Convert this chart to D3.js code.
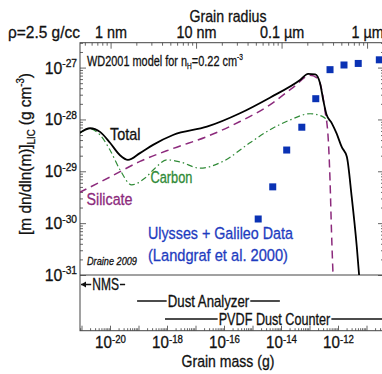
<!DOCTYPE html>
<html>
<head>
<meta charset="utf-8">
<script src="https://cdn.jsdelivr.net/npm/d3@7"></script>
<style>
  html, body { margin: 0; padding: 0; background: #fff; }
  svg { display: block; font-family: "Liberation Sans Narrow", "Liberation Sans", Arial, sans-serif; }
</style>
</head>
<body>
<svg width="382" height="374"></svg>
<script>
// values are log10 of grain mass (g) and of m dn/dln(m) (g cm^-3)
const totalLogM = [-21.09, -20.70, -20.35, -20.00, -19.65, -19.37, -18.95, -18.49, -17.79, -16.60, -15.44, -14.39, -13.33, -13.05, -12.80, -12.63, -12.52, -12.40, -12.22, -12.05, -11.87, -11.69, -11.52, -11.34, -11.23]
const totalLogV = [-28.27, -28.17, -28.24, -28.45, -28.69, -28.78, -28.65, -28.49, -28.30, -28.14, -27.88, -27.58, -27.24, -27.12, -27.13, -27.30, -27.62, -27.91, -28.07, -28.27, -28.53, -28.72, -29.49, -30.46, -31.20]

const silicateLogM = [-21.08, -20.00, -18.95, -17.79, -16.60, -15.44, -14.39, -13.57, -12.98, -12.74, -12.57, -12.46, -12.34, -12.28, -12.23, -12.16]
const silicateLogV = [-29.41, -29.11, -28.81, -28.56, -28.33, -28.04, -27.72, -27.38, -27.15, -27.20, -27.43, -27.82, -28.40, -29.17, -30.13, -31.20]

const carbonLogM = [-21.09, -20.70, -20.35, -20.00, -19.65, -19.24, -18.77, -18.42, -18.01, -17.54, -16.84, -16.04, -15.09, -14.39, -13.68, -12.98, -12.52, -12.35]
const carbonLogV = [-28.27, -28.18, -28.30, -28.59, -28.97, -29.26, -29.13, -28.94, -28.78, -28.82, -28.94, -28.81, -28.45, -28.20, -28.01, -27.89, -27.95, -28.03]

// Ulysses + Galileo points
const dataLogM = [-14.80, -14.29, -13.80, -13.27, -12.78, -12.28, -11.79, -11.29, -10.55]
const dataLogV = [-29.92, -29.30, -28.59, -28.15, -27.60, -27.04, -26.95, -26.92, -26.85]

// instrument ranges (log10 mass); null = runs to the plot edge
const instrumentNames = ['NMS', 'Dust Analyzer', 'PVDF Dust Counter']
const instrumentFrom = [null, -19.05, -18.07]
const instrumentTo = [-19.47, -14.04, null]

// axes
const massExps = [-22, -21, -20, -19, -18, -17, -16, -15, -14, -13, -12, -11]
const massLabelExps = [-20, -18, -16, -14, -12]
const yExps = [-31, -30, -29, -28, -27]
const radiusCm = [1e-7, 1e-6, 1e-5, 1e-4]
const radiusLabels = ['1 nm', '10 nm', '0.1 \u00b5m', '1 \u00b5m']
const rho = 2.5

const svg = d3.select('svg')
const pLeft = 80, pRight = 384, pTop = 42.7, pMid = 275, pBottom = 330.7
const frameColor = '#444', tickColor = '#666'
const squeeze = 0.83 // no condensed face installed, so text is narrowed by hand

const x = d3.scaleLog().domain([10 ** -21.053, 10 ** -10.386]).range([pLeft, pRight])
const y = d3.scaleLog().domain([1e-31, 10 ** -26.52]).range([pMid, pTop])
const massOf = (a) => (4 / 3) * Math.PI * a ** 3 * rho

const inX = (m) => m >= x.domain()[0] && m <= x.domain()[1]
const inY = (v) => v >= y.domain()[0] && v <= y.domain()[1]

const minorsOf = (exps) => exps.flatMap((e) => d3.range(2, 10).map((k) => k * 10 ** e))

const supLabel = (sel, base, exp, supSize, rise) => {
    sel.text(null)
    sel.append('tspan').text(base)
    sel.append('tspan').attr('font-size', supSize).attr('dy', -rise).text('-' + Math.abs(exp))
}

// squeeze a text so that it spans the given width
const fit = (sel, width) => sel.attr('data-sq', width / sel.node().getComputedTextLength())

const styleAxis = (g) => {
    g.select('.domain').remove()
    g.selectAll('.tick line').attr('stroke', tickColor)
    g.selectAll('.tick text').attr('fill', '#111').attr('font-family', null)
}

// ---- bottom axis
const bottomMajor = massExps.map((e) => 10 ** e).filter(inX)
svg.append('g')
    .attr('transform', `translate(0, ${pBottom})`)
    .call(d3.axisBottom(x).tickValues(minorsOf(massExps).filter(inX)).tickSize(-2.5).tickFormat(''))
    .call(styleAxis)
svg.append('g')
    .attr('transform', `translate(0, ${pBottom})`)
    .call(d3.axisBottom(x).tickValues(bottomMajor).tickSize(-5).tickPadding(6).tickFormat(''))
    .call(styleAxis)
    .selectAll('.tick text')
    .attr('font-size', 16.5)
    .attr('data-sq', 0.92)
    .each(function (d) {
        const e = Math.round(Math.log10(d))
        if (massLabelExps.includes(e)) supLabel(d3.select(this), '10', e, 10.5, 5.5)
    })

// ---- top axis (grain radius)
const radiusMinor = [-8, -7, -6, -5, -4].flatMap((e) => d3.range(2, 10).map((k) => massOf(k * 10 ** e))).filter(inX)
svg.append('g')
    .attr('transform', `translate(0, ${pTop})`)
    .call(d3.axisTop(x).tickValues(radiusMinor).tickSize(-3).tickFormat(''))
    .call(styleAxis)
svg.append('g')
    .attr('transform', `translate(0, ${pTop})`)
    .call(d3.axisTop(x).tickValues(radiusCm.map(massOf)).tickSize(-6).tickPadding(5)
        .tickFormat((d, i) => radiusLabels[i]))
    .call(styleAxis)
    .selectAll('.tick text')
    .attr('font-size', 16)
    .attr('data-sq', 0.9)

// ---- left / right axes
const yMinor = minorsOf(yExps).filter(inY)
const yMajor = yExps.map((e) => 10 ** e)
svg.append('g')
    .attr('transform', `translate(${pLeft}, 0)`)
    .call(d3.axisLeft(y).tickValues(yMinor).tickSize(-3).tickFormat(''))
    .call(styleAxis)
svg.append('g')
    .attr('transform', `translate(${pLeft}, 0)`)
    .call(d3.axisLeft(y).tickValues(yMajor).tickSize(-6).tickPadding(3).tickFormat(''))
    .call(styleAxis)
    .selectAll('.tick text')
    .attr('font-size', 17)
    .attr('data-sq', 0.93)
    .each(function (d) {
        supLabel(d3.select(this), '10', Math.round(Math.log10(d)), 11, 6.5)
    })
svg.append('g')
    .attr('transform', `translate(${pRight}, 0)`)
    .call(d3.axisRight(y).tickValues(yMinor).tickSize(-3).tickFormat(''))
    .call(styleAxis)
svg.append('g')
    .attr('transform', `translate(${pRight}, 0)`)
    .call(d3.axisRight(y).tickValues(yMajor).tickSize(-6).tickFormat(''))
    .call(styleAxis)

// ---- frame
const frame = svg.append('g').attr('stroke', frameColor).attr('stroke-width', 1).attr('fill', 'none')
frame.append('rect').attr('x', pLeft).attr('y', pTop).attr('width', pRight - pLeft).attr('height', pBottom - pTop)
frame.append('line').attr('x1', pLeft).attr('x2', pRight).attr('y1', pMid).attr('y2', pMid)

// ---- curves
svg.append('clipPath').attr('id', 'upper')
    .append('rect').attr('x', pLeft).attr('y', pTop).attr('width', pRight - pLeft).attr('height', pMid - pTop)

const line = d3.line()
    .x((d) => x(10 ** d[0]))
    .y((d) => y(10 ** d[1]))
    .curve(d3.curveMonotoneX)

const curves = svg.append('g').attr('clip-path', 'url(#upper)').attr('fill', 'none')
curves.append('path')
    .attr('d', line(d3.zip(silicateLogM, silicateLogV)))
    .attr('stroke', '#8c2a7c').attr('stroke-width', 1.5).attr('stroke-dasharray', '8,5')
curves.append('path')
    .attr('d', line(d3.zip(carbonLogM, carbonLogV)))
    .attr('stroke', '#2f8a36').attr('stroke-width', 1.2).attr('stroke-dasharray', '6,3,1.5,3')
curves.append('path')
    .attr('d', line(d3.zip(totalLogM, totalLogV)))
    .attr('stroke', '#000').attr('stroke-width', 1.8)

// ---- data squares
const sq = 7
svg.append('g')
    .selectAll('rect')
    .data(d3.zip(dataLogM, dataLogV))
    .join('rect')
    .attr('x', (d) => x(10 ** d[0]) - sq / 2)
    .attr('y', (d) => y(10 ** d[1]) - sq / 2)
    .attr('width', sq)
    .attr('height', sq)
    .attr('fill', '#0a32b4')

// ---- labels
const label = (txt, lx, ly, size, color, anchor) =>
    svg.append('text').attr('x', lx).attr('y', ly).attr('font-size', size)
        .attr('fill', color || '#111').attr('text-anchor', anchor || 'start').text(txt)

fit(label('Grain radius', 228, 21.5, 16.5, '#111', 'middle'), 77)
fit(label('\u03c1=2.5 g/cc', 8, 37.7, 16.5), 72)
fit(label('Grain mass (g)', 228, 367, 16.5, '#111', 'middle'), 93)

const wd = label('WD2001 model for n', 87, 66, 15)
wd.append('tspan').attr('font-size', 9).attr('dy', 3).text('H')
wd.append('tspan').attr('dy', -3).text('=0.22 cm')
wd.append('tspan').attr('font-size', 9).attr('dy', -6).text('-3')
fit(wd, 156)

fit(label('Total', 110, 140, 16.5), 30.5)
fit(label('Carbon', 150.5, 183, 16.5, '#2f8a36'), 42)
fit(label('Silicate', 86.5, 205, 16.5, '#8c2a7c'), 46)
fit(label('Ulysses + Galileo Data', 148, 239, 17, '#1e3cc0'), 145)
fit(label('(Landgraf et al. 2000)', 148, 261, 17, '#1e3cc0'), 140)
fit(label('Draine 2009', 87, 265, 11.5).attr('font-style', 'italic'), 50)

const yl = svg.append('text')
    .attr('x', 0).attr('y', 0)
    .attr('transform', 'translate(31, 154) rotate(-90)')
    .attr('text-anchor', 'middle')
    .attr('font-size', 16)
    .attr('fill', '#111')
yl.append('tspan').text('[m dn/dln(m)]')
yl.append('tspan').attr('font-size', 10).attr('dy', 4).text('LIC')
yl.append('tspan').attr('dy', -4).text(' (g cm')
yl.append('tspan').attr('font-size', 10).attr('dy', -7).text('-3')
yl.append('tspan').attr('dy', 7).text(')')
fit(yl, 162)

// ---- instrument ranges in the lower panel
const rowY = [284.5, 301, 319]
const instWidth = [26.7, 81.6, 111.7]
const inst = svg.append('g')
instrumentNames.forEach((name, i) => {
    const x0 = instrumentFrom[i] === null ? pLeft + 1 : x(10 ** instrumentFrom[i])
    const x1 = instrumentTo[i] === null ? pRight : x(10 ** instrumentTo[i])
    const cx = (x0 + x1) / 2 + (i === 0 ? 2.5 : 0)
    const t = inst.append('text')
        .attr('x', cx).attr('y', rowY[i] + 5.5)
        .attr('text-anchor', 'middle').attr('font-size', 16).attr('fill', '#111')
        .text(name)
    fit(t, instWidth[i])
    const w = instWidth[i]
    inst.append('line')
        .attr('x1', x0).attr('x2', cx - w / 2 - 1).attr('y1', rowY[i]).attr('y2', rowY[i])
        .attr('stroke', '#111').attr('stroke-width', 1.5)
    inst.append('line')
        .attr('x1', cx + w / 2 + 1).attr('x2', x1).attr('y1', rowY[i]).attr('y2', rowY[i])
        .attr('stroke', '#111').attr('stroke-width', 1.5)
    if (instrumentFrom[i] === null) {
        inst.append('path')
            .attr('d', `M${x0},${rowY[i]} l5,-3 l0,6 Z`)
            .attr('fill', '#111')
    }
})

// narrow every text around its own anchor point, with a hairline stroke for weight
svg.selectAll('text').each(function () {
    const t = d3.select(this)
    const tx = +t.attr('x') || 0
    const ty = +t.attr('y') || 0
    const k = +t.attr('data-sq') || squeeze
    const prev = t.attr('transform') || ''
    t.attr('x', 0).attr('y', 0)
        .attr('stroke', t.attr('fill')).attr('stroke-width', 0.3)
        .attr('transform', `${prev} translate(${tx},${ty}) scale(${k},1)`)
})
</script>
</body>
</html>
